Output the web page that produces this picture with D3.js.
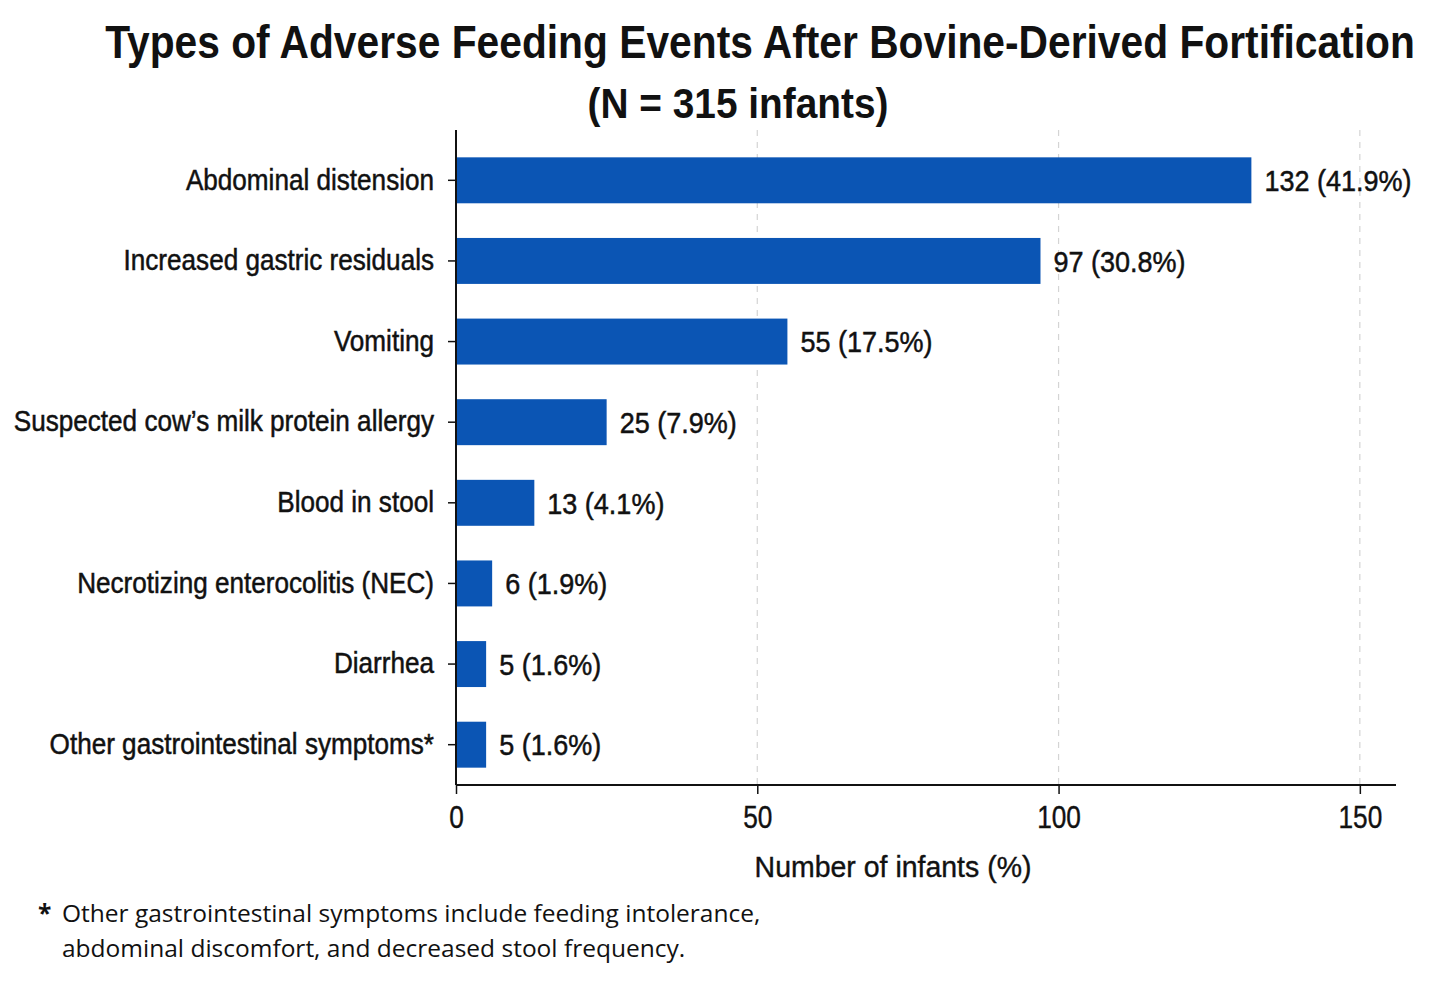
<!DOCTYPE html>
<html>
<head>
<meta charset="utf-8">
<script src="https://cdn.jsdelivr.net/npm/d3@7"></script>
<style>
  body { margin: 0; background: #fff; }
  text { fill: #111; }
</style>
</head>
<body>
<div id="chart"></div>
<script>
// data
const categories = [
  "Abdominal distension",
  "Increased gastric residuals",
  "Vomiting",
  "Suspected cow\u2019s milk protein allergy",
  "Blood in stool",
  "Necrotizing enterocolitis (NEC)",
  "Diarrhea",
  "Other gastrointestinal symptoms*"
];
const counts = [132, 97, 55, 25, 13, 6, 5, 5];
const percents = [41.9, 30.8, 17.5, 7.9, 4.1, 1.9, 1.6, 1.6];
const xTicks = [0, 50, 100, 150];

const W = 1439, H = 986;
const sans = "'Liberation Sans', Arial, sans-serif";
const plot = { left: 456, right: 1396, top: 130, bottom: 785 };

// 把文字横向压窄一点（参考图用的是窄体字）
function condense(sel, k) {
  sel.each(function () {
    const len = this.getComputedTextLength();
    d3.select(this).attr("textLength", len * k).attr("lengthAdjust", "spacingAndGlyphs");
  });
}
// 标题用 transform 压到指定宽度
function squeezeTo(sel, cx, cy, w) {
  sel.attr("x", 0).attr("y", 0).attr("text-anchor", "middle");
  const k = w / sel.node().getComputedTextLength();
  sel.attr("transform", `translate(${cx},${cy}) scale(${k},1)`);
}

const svg = d3.select("#chart").append("svg")
  .attr("width", W).attr("height", H);

const x = d3.scaleLinear().domain([0, 156]).range([plot.left, plot.right]);
const y = d3.scaleBand().domain(categories)
  .range([140, plot.bottom])
  .paddingInner(0.43).paddingOuter(0.215);

const rows = categories.map((c, i) => ({ name: c, n: counts[i], pct: percents[i] }));

// 标题
svg.append("text")
  .style("font-family", sans).style("font-weight", "bold").style("font-size", "46px")
  .text("Types of Adverse Feeding Events After Bovine-Derived Fortification")
  .call(squeezeTo, 760, 58, 1310);
svg.append("text")
  .style("font-family", sans).style("font-weight", "bold").style("font-size", "42px")
  .text("(N = 315 infants)")
  .call(squeezeTo, 738, 118, 301);

// grid
svg.append("g").selectAll("line")
  .data(xTicks.filter(d => d > 0))
  .enter().append("line")
  .attr("x1", d => x(d)).attr("x2", d => x(d))
  .attr("y1", plot.top).attr("y2", plot.bottom)
  .attr("stroke", "#d4d4d4").attr("stroke-width", 1.2)
  .attr("stroke-dasharray", "6 6");

// bars
svg.append("g").selectAll("rect")
  .data(rows).enter().append("rect")
  .attr("x", x(0))
  .attr("y", d => y(d.name))
  .attr("width", d => x(d.n) - x(0))
  .attr("height", y.bandwidth())
  .attr("fill", "#0b55b4");

// value labels
svg.append("g").selectAll("text")
  .data(rows).enter().append("text")
  .attr("x", d => x(d.n) + 13)
  .attr("y", d => y(d.name) + y.bandwidth() / 2)
  .attr("dy", "0.36em")
  .style("font-family", sans).style("font-size", "30px")
  .attr("stroke", "#111").attr("stroke-width", 0.5)
  .text(d => `${d.n} (${d.pct.toFixed(1)}%)`)
  .call(condense, 0.9);

// axes
const xAxis = svg.append("g")
  .attr("transform", `translate(0,${plot.bottom})`)
  .call(d3.axisBottom(x).tickValues(xTicks).tickSize(9).tickPadding(11));
xAxis.select(".domain").remove();
xAxis.append("line")
  .attr("x1", plot.left).attr("x2", plot.right)
  .attr("stroke", "#111").attr("stroke-width", 2);
xAxis.selectAll(".tick line").attr("stroke", "#111").attr("stroke-width", 1.5);
xAxis.selectAll(".tick text")
  .style("font-family", sans).style("font-size", "32px").attr("fill", "#111")
  .attr("stroke", "#111").attr("stroke-width", 0.4)
  .call(condense, 0.82);

const yAxis = svg.append("g")
  .attr("transform", `translate(${plot.left},0)`)
  .call(d3.axisLeft(y).tickSize(8).tickPadding(14));
yAxis.select(".domain").remove();
yAxis.append("line")
  .attr("y1", plot.top).attr("y2", plot.bottom)
  .attr("stroke", "#111").attr("stroke-width", 2);
yAxis.selectAll(".tick line").attr("stroke", "#111").attr("stroke-width", 1.5);
yAxis.selectAll(".tick text")
  .style("font-family", sans).style("font-size", "29px").attr("fill", "#111")
  .attr("stroke", "#111").attr("stroke-width", 0.5)
  .call(condense, 0.9);

svg.append("text")
  .style("font-family", sans).style("font-size", "30px")
  .attr("stroke", "#111").attr("stroke-width", 0.4)
  .text("Number of infants (%)")
  .call(squeezeTo, 893, 877, 277);

// footnote
const foot = svg.append("text")
  .style("font-family", "'Open Sans', sans-serif").style("font-size", "24.5px");
foot.append("tspan").attr("x", 38).attr("y", 922).style("font-weight", "bold").text("*");
foot.append("tspan").attr("x", 62).attr("y", 922)
  .text("Other gastrointestinal symptoms include feeding intolerance,");
foot.append("tspan").attr("x", 62).attr("y", 957)
  .text("abdominal discomfort, and decreased stool frequency.");
</script>
</body>
</html>
